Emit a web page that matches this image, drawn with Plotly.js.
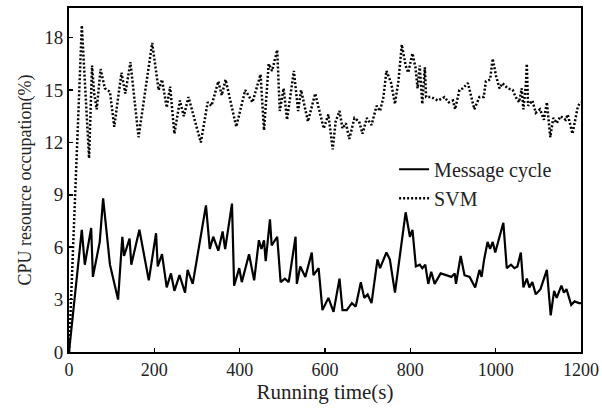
<!DOCTYPE html>
<html>
<head>
<meta charset="utf-8">
<script src="https://cdn.plot.ly/plotly-3.0.1.min.js"></script>
<style>html,body{margin:0;padding:0;background:#fff;}#chart{width:602px;height:408px;}</style>
</head>
<body>
<div id="chart"></div>
<script>
var msgTime = [0,30,37,52,56,72,80,96,115,125,129,142,146,165,187,204,208,218,229,239,247,259,272,278,290,321,330,338,350,360,366,382,387,399,405,422,434,445,451,457,461,466,471,475,488,496,506,515,531,534,542,554,569,573,585,594,608,620,634,641,651,663,672,684,692,700,709,723,729,744,752,764,789,799,805,813,822,828,835,842,849,857,871,884,896,904,907,918,927,939,952,962,967,973,981,987,993,999,1009,1018,1026,1036,1044,1051,1059,1065,1073,1079,1086,1094,1105,1120,1129,1137,1143,1154,1160,1166,1177,1185,1195,1200];
var msgCpu = [0,7.0,5.0,7.1,4.3,6.3,8.8,5.0,3.0,6.6,5.5,6.5,5.0,7.0,4.1,6.8,4.9,5.6,3.7,4.5,3.5,4.4,3.4,4.7,3.9,8.4,5.9,6.6,5.8,6.9,5.9,8.5,3.8,4.8,4.0,5.6,4.1,6.4,5.9,6.4,5.2,6.5,7.6,6.1,6.6,4.0,4.2,4.0,6.6,3.9,4.9,4.3,5.7,4.4,4.8,2.4,3.1,2.3,4.2,2.4,2.4,2.8,2.6,4.0,3.1,3.3,2.8,5.3,4.8,5.7,5.3,3.4,8.0,6.6,7.0,4.9,5.0,4.8,5.0,3.9,4.6,3.9,4.5,4.4,4.3,4.5,3.9,5.5,4.4,4.3,3.7,4.7,4.3,5.3,6.3,5.9,6.3,5.7,6.6,7.4,4.8,5.0,4.8,4.9,5.7,3.7,4.2,3.7,4.0,3.3,3.6,4.7,2.1,3.5,3.1,3.8,3.4,3.6,2.7,2.9,2.8,2.8];

var svmTime = [0,30,47,54,59,65,74,84,96,106,123,132,144,163,195,210,218,229,237,247,260,269,280,309,325,334,350,358,367,392,413,430,449,457,468,476,488,494,503,511,527,537,544,560,577,597,608,618,625,634,641,649,657,669,680,688,698,709,721,729,737,744,755,764,772,780,789,795,805,812,817,822,828,834,837,849,865,880,890,900,905,915,923,935,950,962,972,977,987,993,1001,1009,1016,1028,1040,1047,1055,1061,1065,1071,1073,1076,1086,1094,1104,1113,1120,1128,1135,1143,1152,1164,1169,1180,1193,1200];
var svmCpu = [0,18.7,11.1,16.4,14.8,13.9,16.2,15.1,14.9,12.9,16.0,14.8,16.6,12.3,17.7,15.0,15.6,14.0,15.2,12.5,14.4,13.5,14.6,12.0,14.3,14.1,15.5,14.7,15.6,12.9,15.0,14.3,15.9,12.7,16.5,16.1,17.3,13.8,15.1,13.3,16.1,13.8,15.0,13.2,14.8,12.8,13.6,11.6,13.2,13.8,12.8,13.1,12.2,13.4,13.2,12.5,13.4,13.0,14.1,13.8,14.6,16.1,15.4,14.2,15.5,17.6,16.4,16.0,17.1,16.3,15.1,16.4,14.2,16.3,14.6,14.6,14.4,14.6,14.3,14.4,13.9,15.0,15.1,15.4,13.9,14.6,14.6,15.5,15.6,16.8,15.8,15.1,15.4,15.1,15.0,14.6,14.3,15.1,13.9,15.4,16.5,14.1,14.4,13.7,13.9,13.3,14.3,12.3,13.4,13.1,13.5,13.3,13.6,12.5,14.1,14.3];

var seriesNames = ['Message cycle', 'SVM'];
var xTicks = [0,200,400,600,800,1000,1200];
var yTicks = [0,3,6,9,12,15,18];

var FONT = '"Liberation Serif", "Times New Roman", serif';

var traces = [
  {x: msgTime, y: msgCpu, name: seriesNames[0], type: 'scatter', mode: 'lines',
   line: {color: '#000', width: 2.2}},
  {x: svmTime, y: svmCpu, name: seriesNames[1], type: 'scatter', mode: 'lines',
   line: {color: '#000', width: 2.5, dash: '2px,2px'}}
];

var layout = {
  width: 602, height: 408,
  margin: {l: 69, r: 21, t: 8, b: 56},
  paper_bgcolor: '#fff', plot_bgcolor: '#fff',
  font: {family: FONT, color: '#222', size: 18},
  showlegend: true,
  legend: {x: 0.635, y: 0.588, xanchor: 'left', yanchor: 'top',
           bgcolor: 'rgba(0,0,0,0)', font: {family: FONT, size: 20, color: '#222'},
           tracegroupgap: 0, itemwidth: 30},
  xaxis: {
    range: [0, 1200], tickvals: xTicks, ticks: 'inside', ticklen: 4, tickwidth: 1.5,
    tickcolor: '#000', showline: true, linecolor: '#000', linewidth: 2, mirror: true,
    showgrid: false, zeroline: false, ticklabeloverflow: 'allow',
    tickfont: {family: FONT, size: 18, color: '#222'},
    title: {text: 'Running time(s)', font: {family: FONT, size: 21, color: '#222'}, standoff: 0}
  },
  yaxis: {
    range: [0, 19.7], tickvals: yTicks, ticks: 'inside', ticklen: 4, tickwidth: 1.5,
    tickcolor: '#000', showline: true, linecolor: '#000', linewidth: 2, mirror: true,
    showgrid: false, zeroline: false,
    tickfont: {family: FONT, size: 19, color: '#222'},
    title: {text: 'CPU resource occupation(%)', font: {family: FONT, size: 18, color: '#222'}, standoff: 8}
  }
};

Plotly.newPlot('chart', traces, layout, {displayModeBar: false, staticPlot: true});
</script>
</body>
</html>
